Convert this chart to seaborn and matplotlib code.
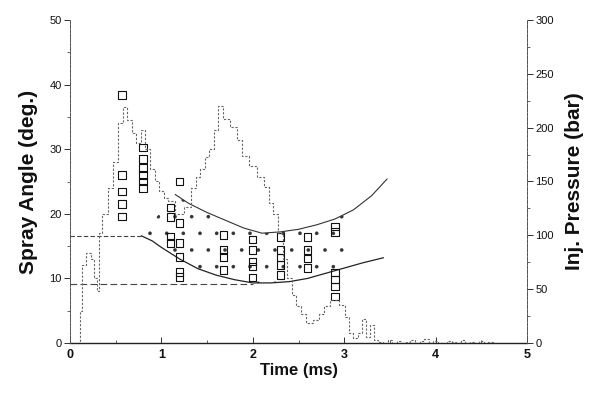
import numpy as np
import matplotlib
matplotlib.use("Agg")
import matplotlib.pyplot as plt
import seaborn as sns

# ---------------- data ----------------
# injection pressure trace (bar)
p_time = [0.0, 0.10, 0.12, 0.15, 0.20, 0.25, 0.28, 0.30, 0.33, 0.38, 0.45, 0.50,
          0.55, 0.60, 0.65, 0.70, 0.75, 0.80, 0.85, 0.90, 0.95, 1.00, 1.05, 1.10,
          1.20, 1.30, 1.35, 1.40, 1.45, 1.50, 1.55, 1.60, 1.64, 1.70, 1.80, 1.85,
          1.92, 2.00, 2.10, 2.15, 2.20, 2.25, 2.30, 2.35, 2.40, 2.45, 2.50, 2.55,
          2.62, 2.70, 2.75, 2.80, 2.90, 2.98, 3.03, 3.08, 3.12, 3.18, 3.22, 3.26,
          3.30, 3.35, 3.40, 3.45, 3.50, 3.55, 3.60, 3.65, 3.70, 3.75, 3.80, 3.85,
          3.90, 3.95, 4.00, 4.05, 4.10, 4.15, 4.20, 4.25, 4.30, 4.35, 4.40, 4.45,
          4.50, 4.55, 4.60, 4.65, 4.70]
p_bar = [0, 0, 30, 72, 84, 78, 60, 48, 102, 120, 144, 168,
         204, 219, 207, 195, 186, 198, 180, 162, 150, 141, 135, 132,
         120, 126, 144, 154, 162, 173, 180, 198, 220, 208, 201, 189,
         174, 164, 154, 145, 130, 120, 102, 78, 60, 45, 34, 27,
         19, 21, 27, 34, 40, 35, 24, 9, 5, 9, 22, 6,
         17, 3, 1, -2, 3, -1, 2, -3, 1, 3, -2, 2,
         4, -1, 2, 0, -3, 2, 1, -2, 3, -1, 1, -2,
         2, -1, 1, 0, 0]

# spray angle measurements (deg.)
sa_time = ([0.57] * 5 + [0.80] * 6 + [1.10] * 4 + [1.20] * 6 + [1.68] * 4 +
           [2.00] * 5 + [2.30] * 5 + [2.60] * 4 + [2.90] * 6)
sa_deg = ([38.4, 26.0, 23.5, 21.5, 19.6] +
          [30.3, 28.5, 27.1, 26.0, 25.0, 24.0] +
          [21.0, 19.5, 16.5, 15.5] +
          [25.0, 18.6, 15.5, 13.3, 11.0, 10.2] +
          [16.7, 14.4, 13.3, 11.3] +
          [16.0, 14.4, 12.6, 11.8, 10.1] +
          [16.4, 14.4, 13.2, 12.1, 10.5] +
          [16.4, 14.4, 13.1, 11.6] +
          [18.0, 17.2, 10.9, 9.8, 8.7, 7.2])

# envelope curves (deg.)
up_time = [1.15, 1.30, 1.50, 1.70, 1.90, 2.10, 2.30, 2.50, 2.70, 2.90, 3.10, 3.30, 3.47]
up_deg = [23.0, 21.6, 20.2, 19.0, 17.8, 17.0, 17.2, 17.6, 18.3, 19.2, 20.6, 22.8, 25.4]
lo_time = [0.78, 0.90, 1.00, 1.20, 1.40, 1.60, 1.80, 2.00, 2.20, 2.40, 2.60, 2.80, 3.00, 3.20, 3.43]
lo_deg = [16.6, 15.8, 14.8, 13.0, 11.5, 10.5, 9.8, 9.3, 9.3, 9.5, 10.0, 10.8, 11.6, 12.4, 13.2]

# steady (early) band limits
band_hi_level = 16.6
band_lo_level = 9.2
band_hi_end = 0.78
band_lo_end = 2.0

x_ticks = [0, 1, 2, 3, 4, 5]
y_ticks = [0, 10, 20, 30, 40, 50]
p_ticks = [0, 50, 100, 150, 200, 250, 300]

# ---------------- plot ----------------
sns.set_theme(style="white")
plt.rcParams['font.family'] = ['Liberation Sans', 'DejaVu Sans']
plt.rcParams['hatch.linewidth'] = 0.2

fig = plt.figure(figsize=(5.93, 3.93), dpi=100)
ax = fig.add_axes([70 / 593, 50 / 393, 457 / 593, 323 / 393])
ax2 = ax.twinx()

ink = "#111111"

# stippled region between envelope curves
grid = np.linspace(band_hi_end, 3.0, 200)
hi = np.interp(grid, [band_hi_end] + up_time, [band_hi_level] + up_deg)
lo = np.interp(grid, lo_time, lo_deg)
ax.fill_between(grid, lo, hi, facecolor="none", edgecolor="#333333", hatch=".",
                linewidth=0, zorder=1)

# horizontal band lines
ax.plot([0, band_hi_end], [band_hi_level, band_hi_level], color="#444444",
        lw=0.8, ls=(0, (4, 2)), zorder=2)
ax.plot([0, band_lo_end], [band_lo_level, band_lo_level], color="#444444",
        lw=0.8, ls=(0, (6, 3)), zorder=2)

# envelope curves
sns.lineplot(x=up_time, y=up_deg, ax=ax, color="#333333", lw=0.8, zorder=2)
sns.lineplot(x=lo_time, y=lo_deg, ax=ax, color="#222222", lw=0.9, zorder=2)

# spray angle squares
sns.scatterplot(x=sa_time, y=sa_deg, ax=ax, marker="s", s=28,
                facecolor="none", edgecolor=ink, linewidth=0.8, zorder=4)

# pressure trace
sns.lineplot(x=p_time, y=p_bar, ax=ax2, color="#666666", lw=0.8,
             ls=(0, (2, 1.5)), drawstyle="steps-mid", zorder=3)

ax.set_xlim(0, 5)
ax.set_ylim(0, 50)
ax2.set_ylim(0, 300)
ax.set_xticks(x_ticks)
ax.set_yticks(y_ticks)
ax2.set_yticks(p_ticks)
ax.set_xticks(np.arange(0.5, 5, 1.0), minor=True)
ax.set_yticks(np.arange(5, 50, 10), minor=True)
ax2.set_yticks(np.arange(25, 300, 50), minor=True)

for a in (ax, ax2):
    a.spines['top'].set_visible(False)
    a.spines['left'].set_linestyle((0, (3, 1.5)))
    a.spines['right'].set_linestyle((0, (3, 1.5)))
    for s in ('left', 'right', 'bottom'):
        a.spines[s].set_color("#555555")
        a.spines[s].set_linewidth(0.7)
    a.patch.set_visible(False)
ax2.spines['bottom'].set_visible(False)
ax.spines['bottom'].set_linestyle((0, (4, 1)))
ax.spines['bottom'].set_color("#222222")
ax.spines['bottom'].set_linewidth(1.0)

ax.tick_params(axis='y', which='major', direction='out', length=4, width=0.6,
               labelsize=8, pad=2, colors=ink, left=True)
ax.tick_params(axis='y', which='minor', direction='out', length=2, width=0.5, left=True)
ax.tick_params(axis='x', which='major', direction='in', length=4, width=0.6,
               labelsize=9, pad=4, colors=ink, bottom=True)
ax.tick_params(axis='x', which='minor', direction='in', length=2, width=0.5, bottom=True)
ax2.tick_params(axis='y', which='major', direction='out', length=4, width=0.6,
                labelsize=8, pad=2, colors=ink, right=True)
ax2.tick_params(axis='y', which='minor', direction='out', length=2, width=0.5, right=True)
for lab in ax.get_xticklabels():
    lab.set_fontweight('bold')

ax.set_xlabel("Time (ms)", fontsize=12, fontweight='bold', color=ink, labelpad=2)
ax.set_ylabel("Spray Angle (deg.)", fontsize=15, fontweight='bold', color=ink, labelpad=8)
ax2.set_ylabel("Inj. Pressure (bar)", fontsize=15, fontweight='bold', color=ink, labelpad=8)

fig.savefig("out.png", dpi=100)
